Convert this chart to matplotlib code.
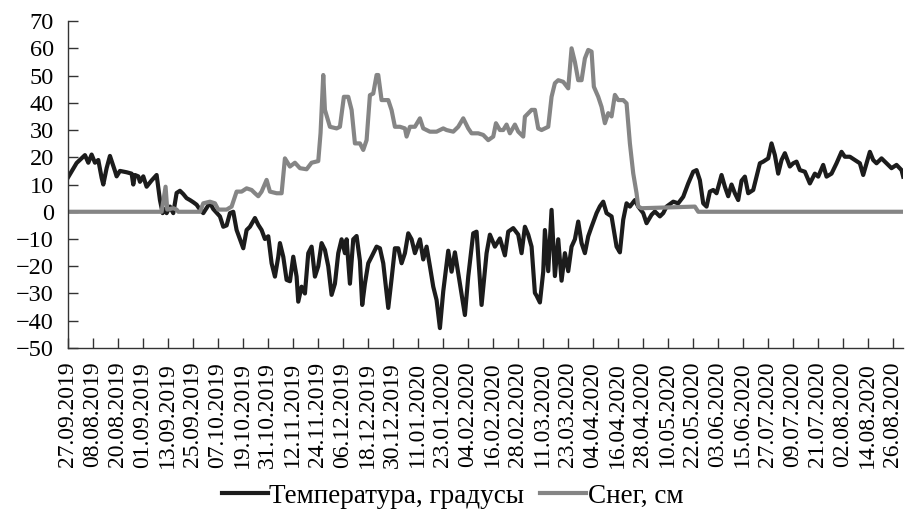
import matplotlib
matplotlib.use("Agg")
import matplotlib.pyplot as plt
import numpy as np

# day index 0 = first label date
temp_day = [0, 4.2, 8.2, 9.8, 11.4, 13, 14.6, 16.2, 17, 18.6, 20.2, 22.6, 23.4, 25, 28.2,
            30.6, 31.4, 32.2, 33.8, 34.6, 36.2, 37.8, 40.2, 42.6, 44.2, 45.5, 46.6, 47.4,
            49, 50.6, 52.2, 53.8, 55.4, 57, 58.6, 60.2, 61.8, 63.4, 65, 66.6, 68.2, 69.8,
            73, 74.6, 76.2, 77.8, 79.4, 81, 82.6, 84.2, 85.8, 87.4, 89.8, 91.4, 93, 94.6,
            96.2, 97.8, 99.4, 101, 101.8, 103.4, 105, 106.6, 108.2, 109.8, 110.6, 112.2,
            113.8, 115.4, 117, 118.6, 120.2, 121.8, 123.4, 125, 126.6, 128.2, 129.8, 131.4,
            133, 133.8, 135.4, 137, 138.6, 140.2, 141.3, 142.6, 144.2, 145.8, 148.2, 149.8,
            151.4, 153.8, 155.4, 157, 158.6, 160.2, 161.8, 163.4, 165, 166.6, 169, 170.6,
            172.2, 173.8, 175.4, 177, 178.6, 180.2, 182.6, 184.2, 185.8, 188.2, 190.6, 192.2,
            194.6, 196.2, 198.6, 201, 202.6, 205, 207.4, 209.8, 211.4, 213.8, 216.2, 217.8,
            219.4, 221, 222.6, 224.2, 225, 226.6, 228.2, 229, 230.6, 232.2, 233.8, 235.4,
            237, 238.6, 240.2, 241.8, 243.4, 245, 246.6, 248.2, 249.8, 251.4, 253.8, 255.4,
            257, 258.6, 261, 263.4, 265, 266.6, 268.2, 269.8, 272.2, 273.8, 276.2, 277.8,
            280.2, 281.8, 284.2, 285.8, 287.4, 290.6, 293, 295.4, 297.8, 300.2, 301.8, 303.4,
            305, 306.6, 308.2, 309.8, 311.4, 313.8, 315.4, 317, 318.6, 320.2, 321.8, 323.4,
            325, 326.6, 329, 330.6, 332.2, 333.8, 336.2, 337.8, 339.4, 341, 342.6, 344.2,
            346.6, 348.2, 349.8, 351.4, 353.8, 356.2, 358.6, 360.2, 362.6, 364.2, 366.6, 369,
            371.4, 373, 375.4, 377.8, 380.2, 381.8, 383.4, 385, 386.6, 388.2, 390.6, 393,
            395.4, 397.8, 400.2, 401]
temp_val = [12.5, 17.9, 20.8, 18, 21, 18, 19, 12.5, 10, 16, 20.5, 15, 13, 15, 14.5,
            14, 10, 13.5, 13, 11, 13, 9.2, 11.5, 13.5, 4.3, -0.5, 1, -0.5,
            1.9, -0.5, 6.9, 7.7, 6.5, 5, 4.3, 3.5, 2.6, 0.8, -0.5, 1.4, 3.3, 1,
            -1.7, -5.5, -5, -0.5, 0, -6.7, -10, -13.4, -6.7, -5.5, -2.3, -4.8, -6.7, -10,
            -9, -18.9, -23.8, -16.5, -11.5, -16.5, -25, -25.5, -16.5, -23.8, -33, -27.5,
            -30, -15.2, -12.8, -23.8, -20, -11.5, -14, -20, -30.5, -26.4, -15.2, -10.1,
            -15.2, -10.1, -26.4, -10.1, -8.9, -18, -34.2, -26.4, -18.9, -16.5, -12.8, -13.4,
            -18.9, -35.3, -24.6, -13.4, -13.4, -18.9, -15.2, -7.9, -10.1, -15.2, -10.1, -17.5,
            -12.8, -20, -27.5, -32.4, -42.7, -29.2, -14.3, -22, -14.9, -26.4, -37.9, -23.8,
            -7.9, -7.3, -34.2, -15.2, -8.4, -12.8, -9.8, -16, -7.3, -6, -8.4, -15.2,
            -5.5, -8.4, -12.8, -29.8, -30.8, -33.3, -22, -6.7, -21.8, 0.7, -23.6, -10.1,
            -25.3, -15.2, -21.8, -12.8, -10.1, -3.6, -11.5, -15.2, -9, -5.5, -0.5, 2,
            3.7, -0.5, -1.7, -12.8, -14.9, -2.9, 3.1, 1.9, 4.3, 1.9, -0.5, -4.2,
            -1.1, 0.1, -1.7, -0.5, 1.9, 3.7, 3.1, 5.5, 10.4, 14.7, 15.3, 11.6,
            3.1, 1.9, 7.4, 8, 6.8, 13.5, 9.2, 5.7, 10, 6.8, 4.3, 11.4,
            12.9, 6.8, 8, 12.9, 17.8, 18.4, 19.6, 25.1, 20.8, 14, 19, 21.5,
            16.6, 17.8, 18.4, 15.3, 14.7, 10.4, 14, 12.9, 17.2, 12.9, 14, 17.8,
            22, 20.2, 20.2, 19, 17.8, 13.5, 17.8, 22, 19, 17.8, 19.6, 17.8,
            16, 17.2, 15.3, 12.9]

snow_day = [0, 45, 46.9, 47.7, 50.6, 52.2, 53, 63.4, 65, 68.2, 70.6, 72.2, 76.2, 78.6,
            81, 83.4, 85.8, 88.2, 89.8, 91.4, 93, 95.4, 97, 100.2, 102.6, 104.2, 106.6,
            109, 111.4, 114.6, 117, 120.2, 121.3, 122.6, 123.4, 125.8, 129, 130.6, 132.5,
            134.6, 136.2, 137.8, 140.2, 141.8, 143.4, 145, 146.6, 148.2, 149, 150.6, 153.8,
            155.4, 157, 159.4, 161.8, 162.6, 164.2, 166.6, 169, 170.6, 173.8, 177, 180.2,
            181.8, 185, 187.4, 189.8, 192.2, 193.8, 197, 199.4, 201.8, 204.2, 205.5, 207.4,
            209, 210.6, 212.2, 214.6, 216.2, 218.6, 219.4, 222.6, 224.2, 225.8, 227.4, 230.6,
            232.2, 233.8, 235.4, 237.8, 240.2, 241.8, 243.4, 245, 246.6, 248.2, 249.8, 251.4,
            252.5, 254.6, 256.2, 257.8, 259.4, 261, 262.6, 264.2, 266.6, 268.2, 269.8, 271.4,
            273, 273.8, 275.4, 301, 302.6, 401]
snow_val = [0, 0, 9.2, 0.8, 1.3, 0.8, 0, 0, 3.1, 3.7, 3.1, 0.8, 0.8, 1.9,
            7.4, 7.4, 8.6, 8, 6.8, 5.7, 7.4, 11.7, 7.4, 6.8, 6.8, 19.6, 16.6,
            18, 16, 15.6, 18, 18.6, 28.9, 50.2, 37.4, 31.2, 30.6, 31.2, 42.2,
            42.2, 37.4, 25.1, 25.1, 22.7, 26.3, 42.8, 43.4, 50.2, 50.2, 41, 41,
            37.3, 31.2, 31.2, 30.6, 27.6, 31.2, 31.2, 34.3, 30.6, 29.4, 29.4, 30.6,
            30, 29.4, 31.2, 34.3, 30.6, 28.8, 28.8, 28.2, 26.3, 27.6, 32.5, 30,
            30, 32, 28.8, 32, 29.4, 27.6, 34.9, 37.4, 37.4, 30.6, 30, 31.2,
            42.2, 47.2, 48.3, 47.7, 45.3, 60, 55, 48.3, 48.3, 56.3, 59.4, 58.8,
            45.9, 42.2, 38.5, 32.5, 36.2, 35, 42.9, 41, 41, 39.8, 25.1, 14.1,
            6.8, 1.9, 1.3, 1.9, 0, 0]

tick_labels = ["27.09.2019", "08.08.2019", "20.08.2019", "01.09.2019", "13.09.2019",
               "25.09.2019", "07.10.2019", "19.10.2019", "31.10.2019", "12.11.2019",
               "24.11.2019", "06.12.2019", "18.12.2019", "30.12.2019", "11.01.2020",
               "23.01.2020", "04.02.2020", "16.02.2020", "28.02.2020", "11.03.2020",
               "23.03.2020", "04.04.2020", "16.04.2020", "28.04.2020", "10.05.2020",
               "22.05.2020", "03.06.2020", "15.06.2020", "27.07.2020", "09.07.2020",
               "21.07.2020", "02.08.2020", "14.08.2020", "26.08.2020"]
tick_pos = np.arange(len(tick_labels)) * 12

plt.rcParams['font.family'] = ['Liberation Serif', 'DejaVu Serif']

fig = plt.figure(figsize=(9.05, 5.14), dpi=100)
ax = fig.add_axes([0.075, 0.323, 0.923, 0.636])

ax.plot(temp_day, temp_val, color='#1c1c1c', linewidth=3.0, label='Температура, градусы')
ax.plot(snow_day, snow_val, color='#858585', linewidth=3.0, label='Снег, см')

ax.set_xlim(0, 401)
ax.set_ylim(-50, 70)
ax.set_yticks(np.arange(-50, 71, 10))
ax.set_xticks(tick_pos)
ax.set_xticklabels(tick_labels, rotation=90)

for s in ['top', 'right']:
    ax.spines[s].set_visible(False)
for s in ['left', 'bottom']:
    ax.spines[s].set_color('#333333')
    ax.spines[s].set_linewidth(1.0)
ax.tick_params(axis='both', direction='in', length=7, width=1.0, color='#333333')
ax.tick_params(axis='y', labelsize=17.5, pad=10)
ax.tick_params(axis='x', labelsize=17, pad=10)

fig.legend(loc='center', bbox_to_anchor=(0.5, 0.035), ncol=2, frameon=False,
           fontsize=19.5, handlelength=1.7, handletextpad=0.05, columnspacing=0.6)

fig.savefig('out.png', dpi=100)
